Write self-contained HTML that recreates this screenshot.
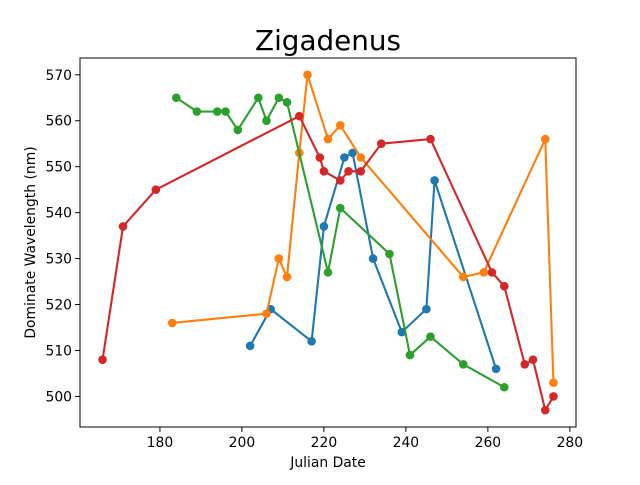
<!DOCTYPE html>
<html><head><meta charset="utf-8"><style>
body{margin:0;background:#fff;}
svg text{font-family:"DejaVu Sans","Liberation Sans",sans-serif;fill:#000;}
</style></head><body>
<svg id="chart" width="640" height="480" xmlns="http://www.w3.org/2000/svg">
<rect width="640" height="480" fill="#fff"/>
<text x="328" y="50" font-size="27.8" text-anchor="middle">Zigadenus</text>
<text x="328" y="467" font-size="13.9" text-anchor="middle">Julian Date</text>
<text transform="translate(35,242.5) rotate(-90)" font-size="13.9" text-anchor="middle">Dominate Wavelength (nm)</text>
<g id="plot"></g>
<rect x="80" y="58" width="496" height="369" fill="none" stroke="#000" stroke-width="1"/>
</svg>
<script>
const xTicks = [180, 200, 220, 240, 260, 280];
const yTicks = [500, 510, 520, 530, 540, 550, 560, 570];
const blueX = [202, 207, 217, 220, 225, 227, 232, 239, 245, 247, 262];
const blueY = [511, 519, 512, 537, 552, 553, 530, 514, 519, 547, 506];
const orangeX = [183, 206, 209, 211, 214, 216, 221, 224, 229, 254, 259, 274, 276];
const orangeY = [516, 518, 530, 526, 553, 570, 556, 559, 552, 526, 527, 556, 503];
const greenX = [184, 189, 194, 196, 199, 204, 206, 209, 211, 221, 224, 236, 241, 246, 254, 264];
const greenY = [565, 562, 562, 562, 558, 565, 560, 565, 564, 527, 541, 531, 509, 513, 507, 502];
const redX = [166, 171, 179, 214, 219, 220, 224, 226, 229, 234, 246, 261, 264, 269, 271, 274, 276];
const redY = [508, 537, 545, 561, 552, 549, 547, 549, 549, 555, 556, 527, 524, 507, 508, 497, 500];

const NS = "http://www.w3.org/2000/svg";
const L = 80, R = 576, T = 58, B = 427;
const xMin = 160.5, xMax = 281.5, yMin = 493.35, yMax = 573.65;
function sx(v){ return L + (v - xMin) / (xMax - xMin) * (R - L); }
function sy(v){ return B - (v - yMin) / (yMax - yMin) * (B - T); }
const g = document.getElementById('plot');
function mk(tag, attrs){ const e = document.createElementNS(NS, tag); for (const k in attrs) e.setAttribute(k, attrs[k]); g.appendChild(e); return e; }

xTicks.forEach(v => {
  const t = mk('line', {x1: sx(v), x2: sx(v), y1: B, y2: B + 4.9, stroke: '#000', 'stroke-width': 1});
  
  
  const tx = mk('text', {x: sx(v), y: B + 20, 'font-size': 13.9, 'text-anchor': 'middle'});
  tx.textContent = v;
  
  
});
yTicks.forEach(v => {
  const t = mk('line', {x1: L - 4.9, x2: L, y1: sy(v), y2: sy(v), stroke: '#000', 'stroke-width': 1});
  
  
  const tx = mk('text', {x: L - 8, y: sy(v) + 5, 'font-size': 13.9, 'text-anchor': 'end'});
  tx.textContent = v;
  
  
});

const series = [
  ['blue', blueX, blueY, '#1f77b4'],
  ['orange', orangeX, orangeY, '#ff7f0e'],
  ['green', greenX, greenY, '#2ca02c'],
  ['red', redX, redY, '#d62728']
];
series.forEach(([name, xs, ys, col]) => {
  const pts = xs.map((x, i) => sx(x) + ',' + sy(ys[i])).join(' ');
  const pl = mk('polyline', {points: pts, fill: 'none', stroke: col, 'stroke-width': 2.1, 'stroke-linejoin': 'round'});
  
  
  xs.forEach((x, i) => {
    const c = mk('circle', {cx: sx(x), cy: sy(ys[i]), r: 4.3, fill: col});
    
    
  });
});
</script>
</body></html>
